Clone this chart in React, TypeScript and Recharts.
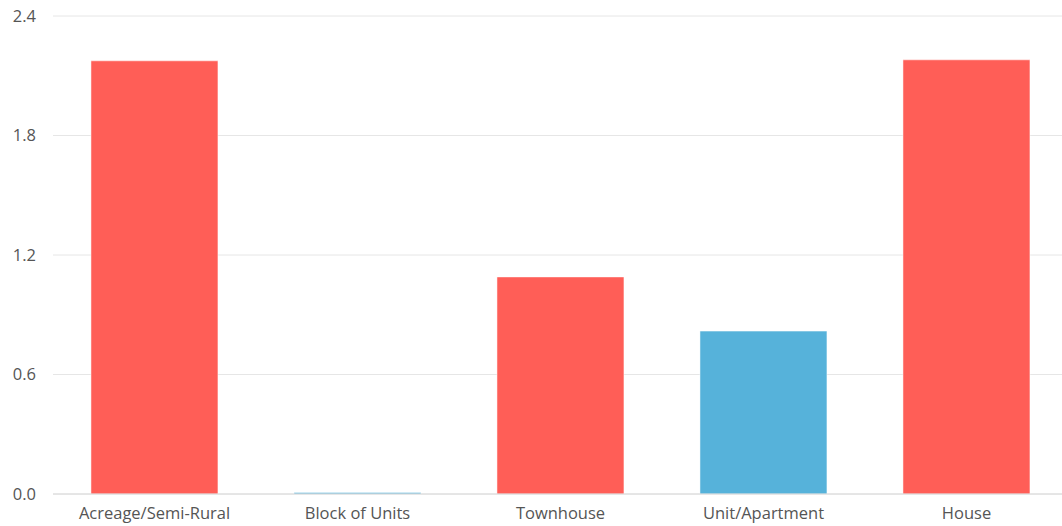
import React from 'react';
import { BarChart, Bar, XAxis, YAxis, CartesianGrid, Cell } from 'recharts';

const categories = ['Acreage/Semi-Rural', 'Block of Units', 'Townhouse', 'Unit/Apartment', 'House'];
const values = [2.175, 0.008, 1.09, 0.818, 2.18];
const barColors = ['#ff5e57', '#56b2da', '#ff5e57', '#56b2da', '#ff5e57'];
const yTicks = [0, 0.6, 1.2, 1.8, 2.4];

const data = categories.map((name, i) => ({ name, value: values[i] }));

const tickStyle = { fill: '#555', fontSize: 16.5, fontFamily: '"Open Sans", sans-serif' };

const App: React.FC = () => {
  return (
    <div style={{ position: 'absolute', left: 0, top: 0, width: 1062, height: 526, overflow: 'hidden', background: '#fff' }}>
      <BarChart
        width={1068}
        height={526}
        data={data}
        margin={{ top: 16, right: 0, bottom: 0, left: 0 }}
        barCategoryGap="18.7%"
      >
        <CartesianGrid vertical={false} stroke="#e6e6e6" />
        <XAxis
          dataKey="name"
          tick={tickStyle}
          tickLine={false}
          axisLine={{ stroke: '#d8d8d8' }}
          height={32}
          tickMargin={7}
          interval={0}
        />
        <YAxis
          domain={[0, 2.4]}
          ticks={yTicks}
          tickFormatter={(v: number) => v.toFixed(1)}
          tick={tickStyle}
          tickLine={false}
          axisLine={false}
          width={53}
          tickMargin={11}
        />
        <Bar dataKey="value" isAnimationActive={false} strokeWidth={1}>
          {data.map((d, i) => (
            <Cell key={d.name} fill={barColors[i]} stroke="#ffffff" strokeOpacity={0.5} />
          ))}
        </Bar>
      </BarChart>
    </div>
  );
};

export default App;
